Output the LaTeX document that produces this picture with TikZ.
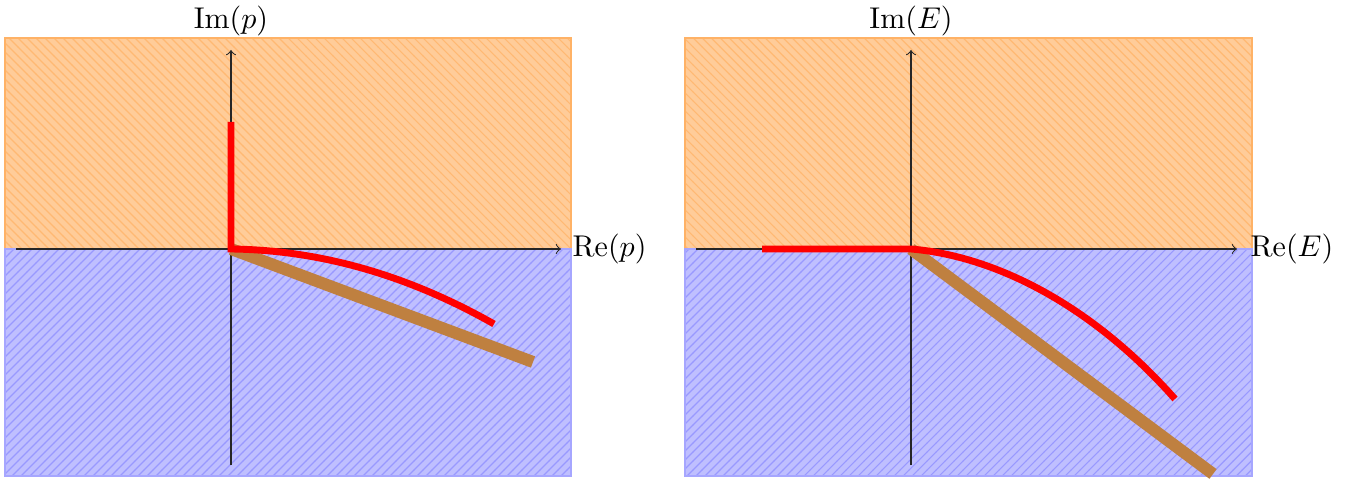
\documentclass[tikz,border=0pt]{standalone}
\usetikzlibrary{patterns}
\tikzset{
  upperhalf/.style={fill=orange!40},
  upperhatch/.style={pattern=north west lines, pattern color=orange!55},
  upperedge/.style={draw=orange!60, line width=0.5pt},
  lowerhalf/.style={fill=blue!25},
  lowerhatch/.style={pattern=north east lines, pattern color=blue!40},
  loweredge/.style={draw=blue!35, line width=0.5pt},
  axis/.style={->, black!85, line width=0.35pt},
  redpath/.style={red, line width=2.3pt},
  brownpath/.style={brown, line width=4pt},
  lbl/.style={inner sep=0pt}
}
\begin{document}
\begin{tikzpicture}[x=0.3333pt, y=-0.3333pt]
\useasboundingbox (0,0) rectangle (1347,479);
% ---------- left panel ----------
\fill[upperhalf] (5,38) rectangle (571,249);
\fill[upperhatch] (5,38) rectangle (571,249);
\draw[upperedge] (5,38) rectangle (571,249);
\fill[lowerhalf] (5,249) rectangle (571,476);
\fill[lowerhatch] (5,249) rectangle (571,476);
\draw[loweredge] (5,249) rectangle (571,476);
\coordinate (O1) at (231,249);
\coordinate (X1s) at (16,249);
\coordinate (X1e) at (561,249);
\coordinate (Y1s) at (231,465);
\coordinate (Y1e) at (231,50);
\draw[axis] (X1s) -- (X1e);
\draw[axis] (Y1s) -- (Y1e);
\node[lbl, anchor=base] (im1) at (231,29) {$\mathrm{Im}(p)$};
\node[lbl, anchor=base west] (re1) at (572,257) {$\mathrm{Re}(p)$};
\coordinate (B1) at (533,362);
\draw[brownpath] (O1) -- (B1);
\coordinate (R1t) at (231,122);
\coordinate (R1e) at (494,324);
\draw[redpath] (R1t) -- (O1) .. controls (318,250) and (406,274) .. (R1e);
% ---------- right panel ----------
\fill[upperhalf] (685,38) rectangle (1252,249);
\fill[upperhatch] (685,38) rectangle (1252,249);
\draw[upperedge] (685,38) rectangle (1252,249);
\fill[lowerhalf] (685,249) rectangle (1252,476);
\fill[lowerhatch] (685,249) rectangle (1252,476);
\draw[loweredge] (685,249) rectangle (1252,476);
\coordinate (O2) at (911,249);
\coordinate (X2s) at (696,249);
\coordinate (X2e) at (1237,249);
\coordinate (Y2s) at (911,465);
\coordinate (Y2e) at (911,50);
\draw[axis] (X2s) -- (X2e);
\draw[axis] (Y2s) -- (Y2e);
\node[lbl, anchor=base] (im2) at (911,29) {$\mathrm{Im}(E)$};
\node[lbl, anchor=base west] (re2) at (1250,257) {$\mathrm{Re}(E)$};
\coordinate (B2) at (1213,474);
\draw[brownpath] (O2) -- (B2);
\coordinate (R2s) at (762,249);
\coordinate (R2e) at (1175,399);
\draw[redpath] (R2s) -- (O2) .. controls (995,256) and (1092,305) .. (R2e);
\end{tikzpicture}
\end{document}
